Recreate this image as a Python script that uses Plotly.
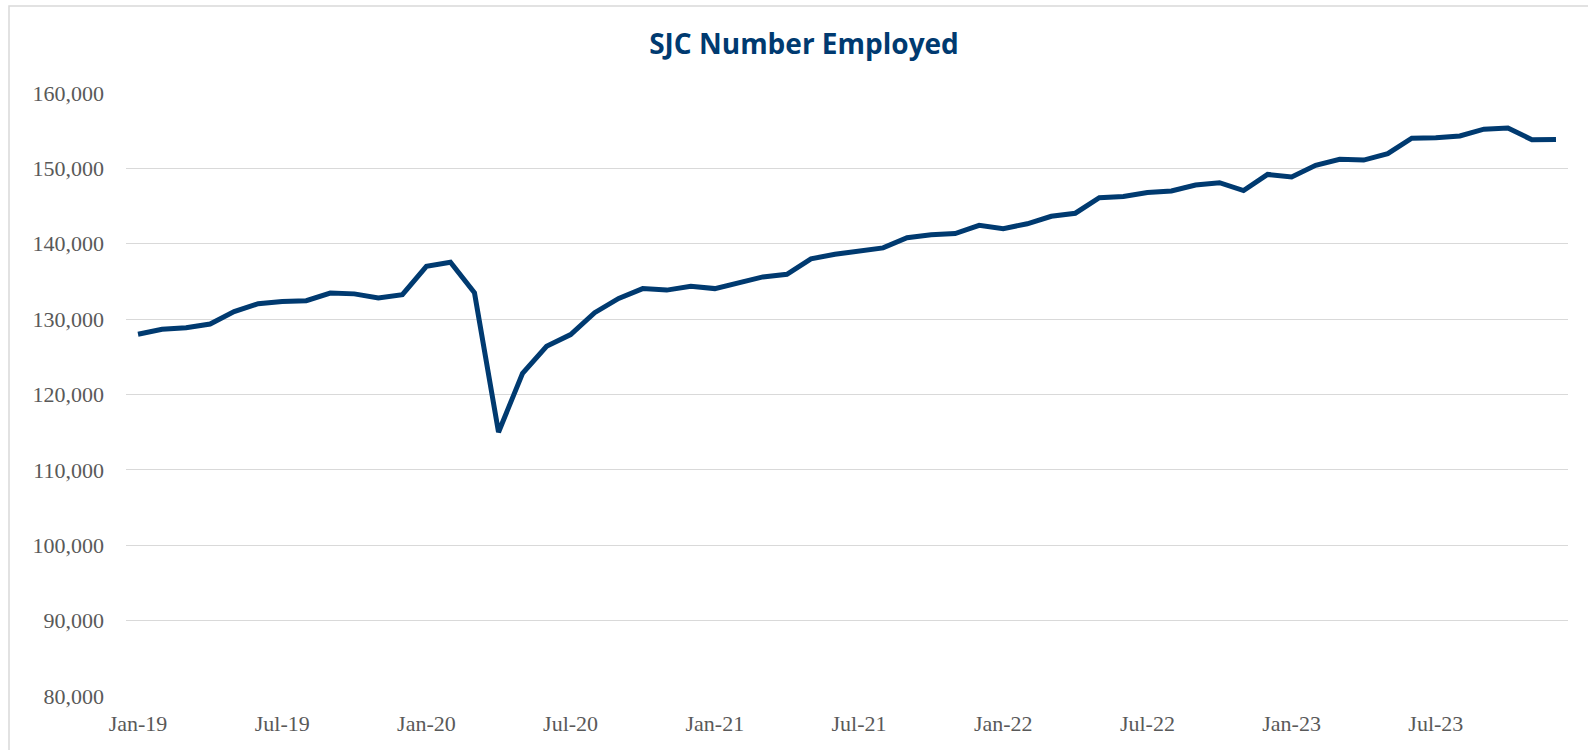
import plotly.graph_objects as go
import pandas as pd

# Monthly categories Jan-19 .. Dec-23
months = [d.strftime("%b-%y") for d in pd.date_range("2019-01-01", "2023-12-01", freq="MS")]

employed = [
    128000, 128650, 128850, 129350, 131000, 132050, 132350, 132450, 133450, 133350, 132800, 133250,
    137000, 137550, 133500, 115000, 122800, 126400, 127950, 130850, 132750, 134050, 133850, 134350,
    134050, 134900, 135600, 135950, 138000, 138600, 139100, 139450, 140800, 141200, 141350, 142450,
    142000, 142650, 143650, 144050, 146100, 146280, 146800, 147000, 147800, 148100, 147050, 149200,
    148850, 150400, 151200, 151100, 151950, 154000, 154050, 154300, 155200, 155350, 153800, 153820,
]

tick_labels = ["Jan-19", "Jul-19", "Jan-20", "Jul-20", "Jan-21", "Jul-21",
               "Jan-22", "Jul-22", "Jan-23", "Jul-23"]
y_ticks = [80000, 90000, 100000, 110000, 120000, 130000, 140000, 150000, 160000]

NAVY = "#003a70"

fig = go.Figure()
fig.add_trace(go.Scatter(
    x=months, y=employed, mode="lines",
    line=dict(color=NAVY, width=5),
    hoverinfo="x+y",
))

fig.update_layout(
    width=1588, height=750,
    margin=dict(l=126, r=20, t=93, b=54),
    paper_bgcolor="white", plot_bgcolor="white",
    showlegend=False,
    title=dict(
        text="<b>SJC Number Employed</b>",
        font=dict(family="Open Sans", size=28, color=NAVY),
        x=0.5063, xanchor="center", y=1 - 44 / 750, yanchor="middle",
    ),
    xaxis=dict(
        type="category",
        tickmode="array", tickvals=tick_labels, ticktext=tick_labels,
        showgrid=False, zeroline=False, showline=False,
        ticks="", ticklabelstandoff=12,
        tickfont=dict(family="Liberation Serif", size=22, color="#595959"),
        range=[-0.5, 59.5],
    ),
    yaxis=dict(
        range=[80000, 160000],
        tickmode="array", tickvals=y_ticks,
        ticktext=[f"{v:,}" for v in y_ticks],
        showgrid=True, gridcolor="#d9d9d9", gridwidth=1.4,
        zeroline=False, showline=False, ticks="",
        ticklabelstandoff=21,
        tickfont=dict(family="Liberation Serif", size=22, color="#595959"),
    ),
    shapes=[
        dict(type="rect", xref="paper", yref="paper",
             x0=(9 - 126) / 1442, x1=(1600 - 126) / 1442,
             y0=(696 - 760) / 603, y1=(696 - 6) / 603,
             line=dict(color="#d9d9d9", width=1.5), fillcolor="rgba(0,0,0,0)",
             layer="below"),
    ],
)

fig.write_html(
    "out.html",
    config={"displayModeBar": False},
    post_script="document.body.style.margin='0';document.body.style.overflow='hidden';",
)
